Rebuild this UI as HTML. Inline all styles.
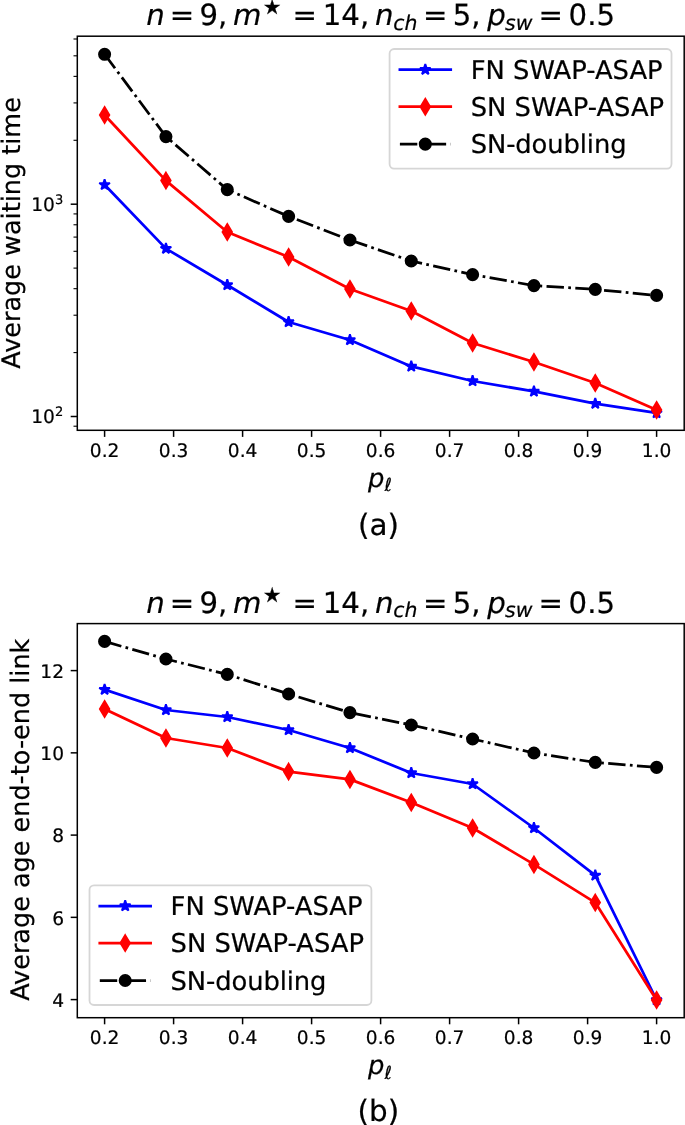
<!DOCTYPE html>
<html lang="en"><head><meta charset="utf-8"><title>Average waiting time and age of end-to-end link</title>
<style>html,body{margin:0;padding:0;background:#fff}svg{display:block;will-change:transform}text{font-family:'DejaVu Sans', 'Liberation Sans', sans-serif;text-rendering:geometricPrecision;fill:#000;stroke:#000;stroke-width:.22px}</style>
</head><body>
<svg width="685" height="1125" viewBox="0 0 685 1125">
<rect width="685" height="1125" fill="#fff"/>
<clipPath id="clipa"><rect x="77.3" y="36.2" width="606.9" height="394.1"/></clipPath>
<g clip-path="url(#clipa)">
<polyline points="104.6,184.8 165.93,248.6 227.27,285 288.6,322 349.93,340 411.26,366.4 472.6,381 533.93,391.4 595.26,403.6 656.6,413" fill="none" stroke="#00f" stroke-width="2.75" stroke-linejoin="round" stroke-linecap="square"/>
<polygon points="104.6,179.2 105.86,183.07 109.93,183.07 106.63,185.46 107.89,189.33 104.6,186.94 101.31,189.33 102.57,185.46 99.27,183.07 103.34,183.07" fill="#00f" stroke="#00f" stroke-width="1.87" stroke-linejoin="bevel"/>
<polygon points="165.93,243 167.19,246.87 171.26,246.87 167.97,249.26 169.22,253.13 165.93,250.74 162.64,253.13 163.9,249.26 160.61,246.87 164.68,246.87" fill="#00f" stroke="#00f" stroke-width="1.87" stroke-linejoin="bevel"/>
<polygon points="227.27,279.4 228.52,283.27 232.59,283.27 229.3,285.66 230.56,289.53 227.27,287.14 223.97,289.53 225.23,285.66 221.94,283.27 226.01,283.27" fill="#00f" stroke="#00f" stroke-width="1.87" stroke-linejoin="bevel"/>
<polygon points="288.6,316.4 289.86,320.27 293.92,320.27 290.63,322.66 291.89,326.53 288.6,324.14 285.31,326.53 286.56,322.66 283.27,320.27 287.34,320.27" fill="#00f" stroke="#00f" stroke-width="1.87" stroke-linejoin="bevel"/>
<polygon points="349.93,334.4 351.19,338.27 355.26,338.27 351.97,340.66 353.22,344.53 349.93,342.14 346.64,344.53 347.9,340.66 344.61,338.27 348.67,338.27" fill="#00f" stroke="#00f" stroke-width="1.87" stroke-linejoin="bevel"/>
<polygon points="411.26,360.8 412.52,364.67 416.59,364.67 413.3,367.06 414.56,370.93 411.26,368.54 407.97,370.93 409.23,367.06 405.94,364.67 410.01,364.67" fill="#00f" stroke="#00f" stroke-width="1.87" stroke-linejoin="bevel"/>
<polygon points="472.6,375.4 473.86,379.27 477.92,379.27 474.63,381.66 475.89,385.53 472.6,383.14 469.31,385.53 470.56,381.66 467.27,379.27 471.34,379.27" fill="#00f" stroke="#00f" stroke-width="1.87" stroke-linejoin="bevel"/>
<polygon points="533.93,385.8 535.19,389.67 539.26,389.67 535.97,392.06 537.22,395.93 533.93,393.54 530.64,395.93 531.9,392.06 528.61,389.67 532.67,389.67" fill="#00f" stroke="#00f" stroke-width="1.87" stroke-linejoin="bevel"/>
<polygon points="595.26,398 596.52,401.87 600.59,401.87 597.3,404.26 598.56,408.13 595.26,405.74 591.97,408.13 593.23,404.26 589.94,401.87 594.01,401.87" fill="#00f" stroke="#00f" stroke-width="1.87" stroke-linejoin="bevel"/>
<polygon points="656.6,407.4 657.85,411.27 661.92,411.27 658.63,413.66 659.89,417.53 656.6,415.14 653.31,417.53 654.56,413.66 651.27,411.27 655.34,411.27" fill="#00f" stroke="#00f" stroke-width="1.87" stroke-linejoin="bevel"/>
</g>
<g clip-path="url(#clipa)">
<polyline points="104.6,115 165.93,180.6 227.27,232 288.6,257 349.93,289 411.26,311 472.6,343 533.93,362 595.26,383 656.6,410" fill="none" stroke="#f00" stroke-width="2.75" stroke-linejoin="round" stroke-linecap="square"/>
<polygon points="104.6,107.08 109.35,115 104.6,122.92 99.85,115" fill="#f00" stroke="#f00" stroke-width="1.87" stroke-linejoin="miter" stroke-miterlimit="10"/>
<polygon points="165.93,172.68 170.68,180.6 165.93,188.52 161.18,180.6" fill="#f00" stroke="#f00" stroke-width="1.87" stroke-linejoin="miter" stroke-miterlimit="10"/>
<polygon points="227.27,224.08 232.02,232 227.27,239.92 222.51,232" fill="#f00" stroke="#f00" stroke-width="1.87" stroke-linejoin="miter" stroke-miterlimit="10"/>
<polygon points="288.6,249.08 293.35,257 288.6,264.92 283.85,257" fill="#f00" stroke="#f00" stroke-width="1.87" stroke-linejoin="miter" stroke-miterlimit="10"/>
<polygon points="349.93,281.08 354.68,289 349.93,296.92 345.18,289" fill="#f00" stroke="#f00" stroke-width="1.87" stroke-linejoin="miter" stroke-miterlimit="10"/>
<polygon points="411.26,303.08 416.02,311 411.26,318.92 406.51,311" fill="#f00" stroke="#f00" stroke-width="1.87" stroke-linejoin="miter" stroke-miterlimit="10"/>
<polygon points="472.6,335.08 477.35,343 472.6,350.92 467.85,343" fill="#f00" stroke="#f00" stroke-width="1.87" stroke-linejoin="miter" stroke-miterlimit="10"/>
<polygon points="533.93,354.08 538.68,362 533.93,369.92 529.18,362" fill="#f00" stroke="#f00" stroke-width="1.87" stroke-linejoin="miter" stroke-miterlimit="10"/>
<polygon points="595.26,375.08 600.02,383 595.26,390.92 590.51,383" fill="#f00" stroke="#f00" stroke-width="1.87" stroke-linejoin="miter" stroke-miterlimit="10"/>
<polygon points="656.6,402.08 661.35,410 656.6,417.92 651.85,410" fill="#f00" stroke="#f00" stroke-width="1.87" stroke-linejoin="miter" stroke-miterlimit="10"/>
</g>
<g clip-path="url(#clipa)">
<polyline points="104.6,54.3 165.93,136.6 227.27,189.6 288.6,216.4 349.93,240 411.26,261 472.6,274.6 533.93,285.6 595.26,289.4 656.6,295.4" fill="none" stroke="#000" stroke-width="2.75" stroke-linejoin="round" stroke-dasharray="17.41 4.35 2.72 4.35" stroke-linecap="butt"/>
<circle cx="104.6" cy="54.3" r="5.6" fill="#000" stroke="#000" stroke-width="1.87"/>
<circle cx="165.93" cy="136.6" r="5.6" fill="#000" stroke="#000" stroke-width="1.87"/>
<circle cx="227.27" cy="189.6" r="5.6" fill="#000" stroke="#000" stroke-width="1.87"/>
<circle cx="288.6" cy="216.4" r="5.6" fill="#000" stroke="#000" stroke-width="1.87"/>
<circle cx="349.93" cy="240" r="5.6" fill="#000" stroke="#000" stroke-width="1.87"/>
<circle cx="411.26" cy="261" r="5.6" fill="#000" stroke="#000" stroke-width="1.87"/>
<circle cx="472.6" cy="274.6" r="5.6" fill="#000" stroke="#000" stroke-width="1.87"/>
<circle cx="533.93" cy="285.6" r="5.6" fill="#000" stroke="#000" stroke-width="1.87"/>
<circle cx="595.26" cy="289.4" r="5.6" fill="#000" stroke="#000" stroke-width="1.87"/>
<circle cx="656.6" cy="295.4" r="5.6" fill="#000" stroke="#000" stroke-width="1.87"/>
</g>
<g stroke="#000" stroke-width="1.5">
<line x1="104.6" y1="430.3" x2="104.6" y2="436.9"/>
<line x1="173.6" y1="430.3" x2="173.6" y2="436.9"/>
<line x1="242.6" y1="430.3" x2="242.6" y2="436.9"/>
<line x1="311.6" y1="430.3" x2="311.6" y2="436.9"/>
<line x1="380.6" y1="430.3" x2="380.6" y2="436.9"/>
<line x1="449.6" y1="430.3" x2="449.6" y2="436.9"/>
<line x1="518.6" y1="430.3" x2="518.6" y2="436.9"/>
<line x1="587.6" y1="430.3" x2="587.6" y2="436.9"/>
<line x1="656.6" y1="430.3" x2="656.6" y2="436.9"/>
</g>
<g font-size="18.6" text-anchor="middle">
<text transform="translate(104.6 457)">0.2</text>
<text transform="translate(173.6 457)">0.3</text>
<text transform="translate(242.6 457)">0.4</text>
<text transform="translate(311.6 457)">0.5</text>
<text transform="translate(380.6 457)">0.6</text>
<text transform="translate(449.6 457)">0.7</text>
<text transform="translate(518.6 457)">0.8</text>
<text transform="translate(587.6 457)">0.9</text>
<text transform="translate(656.6 457)">1.0</text>
</g>
<g stroke="#000" stroke-width="1.5">
<line x1="70.7" y1="416.5" x2="77.3" y2="416.5"/>
<line x1="70.7" y1="204.2" x2="77.3" y2="204.2"/>
</g>
<g stroke="#000" stroke-width="1.1">
<line x1="73.5" y1="426.21" x2="77.3" y2="426.21"/>
<line x1="73.5" y1="352.59" x2="77.3" y2="352.59"/>
<line x1="73.5" y1="315.21" x2="77.3" y2="315.21"/>
<line x1="73.5" y1="288.68" x2="77.3" y2="288.68"/>
<line x1="73.5" y1="268.11" x2="77.3" y2="268.11"/>
<line x1="73.5" y1="251.3" x2="77.3" y2="251.3"/>
<line x1="73.5" y1="237.09" x2="77.3" y2="237.09"/>
<line x1="73.5" y1="224.77" x2="77.3" y2="224.77"/>
<line x1="73.5" y1="213.91" x2="77.3" y2="213.91"/>
<line x1="73.5" y1="140.29" x2="77.3" y2="140.29"/>
<line x1="73.5" y1="102.91" x2="77.3" y2="102.91"/>
<line x1="73.5" y1="76.38" x2="77.3" y2="76.38"/>
<line x1="73.5" y1="55.81" x2="77.3" y2="55.81"/>
<line x1="73.5" y1="39" x2="77.3" y2="39"/>
</g>
<text transform="translate(31.25 423.1)" font-size="18.6">10<tspan dy="-6.8" font-size="13.02">2</tspan></text>
<text transform="translate(31.25 210.8)" font-size="18.6">10<tspan dy="-6.8" font-size="13.02">3</tspan></text>
<rect x="77.3" y="36.2" width="606.9" height="394.1" fill="none" stroke="#000" stroke-width="1.5"/>
<text transform="translate(19.5 232.95) rotate(-90)" font-size="25.5" text-anchor="middle">Average waiting time</text>
<text transform="translate(368.1 486.7)" font-size="25.8" font-style="italic">p<tspan dy="4.5" font-size="18.06">ℓ</tspan></text>
<text transform="translate(378.4 535.3)" font-size="29.4" text-anchor="middle">(a)</text>
<g font-size="29.2">
<text transform="translate(146.3 25.3)" font-style="italic">n</text>
<text transform="translate(169.8 25.3)">=</text>
<text transform="translate(199.4 25.3)">9,</text>
<text transform="translate(233.1 25.3)" font-style="italic">m</text>
<text transform="translate(262.9 14.2)" font-size="20.44">★</text>
<text transform="translate(292.5 25.3)">=</text>
<text transform="translate(322.8 25.3)">14,</text>
<text transform="translate(374.95 25.3)" font-style="italic">n</text>
<text transform="translate(393.25 30)" font-size="20.44" font-style="italic">ch</text>
<text transform="translate(423 25.3)">=</text>
<text transform="translate(452.8 25.3)">5,</text>
<text transform="translate(487.2 25.3)" font-style="italic">p</text>
<text transform="translate(505.1 30)" font-size="20.44" font-style="italic">sw</text>
<text transform="translate(538.6 25.3)">=</text>
<text transform="translate(568.6 25.3)">0.5</text>
</g>
<rect x="389.6" y="49" width="281.9" height="119.6" rx="4.5" ry="4.5" fill="#fff" fill-opacity="0.8" stroke="#ccc" stroke-opacity="0.8" stroke-width="1.8"/>
<line x1="399.9" y1="69.6" x2="450.7" y2="69.6" stroke="#00f" stroke-width="2.75" stroke-linecap="square"/>
<polygon points="425.3,64 426.56,67.87 430.63,67.87 427.33,70.26 428.59,74.13 425.3,71.74 422.01,74.13 423.27,70.26 419.97,67.87 424.04,67.87" fill="#00f" stroke="#00f" stroke-width="1.87" stroke-linejoin="bevel"/>
<text transform="translate(470.7 78.6)" font-size="25.8">FN SWAP-ASAP</text>
<line x1="399.9" y1="106.7" x2="450.7" y2="106.7" stroke="#f00" stroke-width="2.75" stroke-linecap="square"/>
<polygon points="425.3,98.78 430.05,106.7 425.3,114.62 420.55,106.7" fill="#f00" stroke="#f00" stroke-width="1.87" stroke-linejoin="miter" stroke-miterlimit="10"/>
<text transform="translate(470.7 115.7)" font-size="25.8">SN SWAP-ASAP</text>
<line x1="399.9" y1="144.1" x2="450.7" y2="144.1" stroke="#000" stroke-width="2.75" stroke-dasharray="17.41 4.35 2.72 4.35"/>
<circle cx="425.3" cy="144.1" r="5.6" fill="#000" stroke="#000" stroke-width="1.87"/>
<text transform="translate(470.7 153.1)" font-size="25.8" letter-spacing="-0.11">SN-doubling</text>
<clipPath id="clipb"><rect x="77.3" y="623.6" width="606.9" height="394.1"/></clipPath>
<g clip-path="url(#clipb)">
<polyline points="104.6,689.6 165.93,710 227.27,717 288.6,730 349.93,748 411.26,773 472.6,784 533.93,828 595.26,875.4 656.6,1000" fill="none" stroke="#00f" stroke-width="2.75" stroke-linejoin="round" stroke-linecap="square"/>
<polygon points="104.6,684 105.86,687.87 109.93,687.87 106.63,690.26 107.89,694.13 104.6,691.74 101.31,694.13 102.57,690.26 99.27,687.87 103.34,687.87" fill="#00f" stroke="#00f" stroke-width="1.87" stroke-linejoin="bevel"/>
<polygon points="165.93,704.4 167.19,708.27 171.26,708.27 167.97,710.66 169.22,714.53 165.93,712.14 162.64,714.53 163.9,710.66 160.61,708.27 164.68,708.27" fill="#00f" stroke="#00f" stroke-width="1.87" stroke-linejoin="bevel"/>
<polygon points="227.27,711.4 228.52,715.27 232.59,715.27 229.3,717.66 230.56,721.53 227.27,719.14 223.97,721.53 225.23,717.66 221.94,715.27 226.01,715.27" fill="#00f" stroke="#00f" stroke-width="1.87" stroke-linejoin="bevel"/>
<polygon points="288.6,724.4 289.86,728.27 293.92,728.27 290.63,730.66 291.89,734.53 288.6,732.14 285.31,734.53 286.56,730.66 283.27,728.27 287.34,728.27" fill="#00f" stroke="#00f" stroke-width="1.87" stroke-linejoin="bevel"/>
<polygon points="349.93,742.4 351.19,746.27 355.26,746.27 351.97,748.66 353.22,752.53 349.93,750.14 346.64,752.53 347.9,748.66 344.61,746.27 348.67,746.27" fill="#00f" stroke="#00f" stroke-width="1.87" stroke-linejoin="bevel"/>
<polygon points="411.26,767.4 412.52,771.27 416.59,771.27 413.3,773.66 414.56,777.53 411.26,775.14 407.97,777.53 409.23,773.66 405.94,771.27 410.01,771.27" fill="#00f" stroke="#00f" stroke-width="1.87" stroke-linejoin="bevel"/>
<polygon points="472.6,778.4 473.86,782.27 477.92,782.27 474.63,784.66 475.89,788.53 472.6,786.14 469.31,788.53 470.56,784.66 467.27,782.27 471.34,782.27" fill="#00f" stroke="#00f" stroke-width="1.87" stroke-linejoin="bevel"/>
<polygon points="533.93,822.4 535.19,826.27 539.26,826.27 535.97,828.66 537.22,832.53 533.93,830.14 530.64,832.53 531.9,828.66 528.61,826.27 532.67,826.27" fill="#00f" stroke="#00f" stroke-width="1.87" stroke-linejoin="bevel"/>
<polygon points="595.26,869.8 596.52,873.67 600.59,873.67 597.3,876.06 598.56,879.93 595.26,877.54 591.97,879.93 593.23,876.06 589.94,873.67 594.01,873.67" fill="#00f" stroke="#00f" stroke-width="1.87" stroke-linejoin="bevel"/>
<polygon points="656.6,994.4 657.85,998.27 661.92,998.27 658.63,1000.66 659.89,1004.53 656.6,1002.14 653.31,1004.53 654.56,1000.66 651.27,998.27 655.34,998.27" fill="#00f" stroke="#00f" stroke-width="1.87" stroke-linejoin="bevel"/>
</g>
<g clip-path="url(#clipb)">
<polyline points="104.6,709 165.93,738 227.27,748 288.6,771.6 349.93,779.4 411.26,802.5 472.6,828 533.93,864.4 595.26,902.6 656.6,1000" fill="none" stroke="#f00" stroke-width="2.75" stroke-linejoin="round" stroke-linecap="square"/>
<polygon points="104.6,701.08 109.35,709 104.6,716.92 99.85,709" fill="#f00" stroke="#f00" stroke-width="1.87" stroke-linejoin="miter" stroke-miterlimit="10"/>
<polygon points="165.93,730.08 170.68,738 165.93,745.92 161.18,738" fill="#f00" stroke="#f00" stroke-width="1.87" stroke-linejoin="miter" stroke-miterlimit="10"/>
<polygon points="227.27,740.08 232.02,748 227.27,755.92 222.51,748" fill="#f00" stroke="#f00" stroke-width="1.87" stroke-linejoin="miter" stroke-miterlimit="10"/>
<polygon points="288.6,763.68 293.35,771.6 288.6,779.52 283.85,771.6" fill="#f00" stroke="#f00" stroke-width="1.87" stroke-linejoin="miter" stroke-miterlimit="10"/>
<polygon points="349.93,771.48 354.68,779.4 349.93,787.32 345.18,779.4" fill="#f00" stroke="#f00" stroke-width="1.87" stroke-linejoin="miter" stroke-miterlimit="10"/>
<polygon points="411.26,794.58 416.02,802.5 411.26,810.42 406.51,802.5" fill="#f00" stroke="#f00" stroke-width="1.87" stroke-linejoin="miter" stroke-miterlimit="10"/>
<polygon points="472.6,820.08 477.35,828 472.6,835.92 467.85,828" fill="#f00" stroke="#f00" stroke-width="1.87" stroke-linejoin="miter" stroke-miterlimit="10"/>
<polygon points="533.93,856.48 538.68,864.4 533.93,872.32 529.18,864.4" fill="#f00" stroke="#f00" stroke-width="1.87" stroke-linejoin="miter" stroke-miterlimit="10"/>
<polygon points="595.26,894.68 600.02,902.6 595.26,910.52 590.51,902.6" fill="#f00" stroke="#f00" stroke-width="1.87" stroke-linejoin="miter" stroke-miterlimit="10"/>
<polygon points="656.6,992.08 661.35,1000 656.6,1007.92 651.85,1000" fill="#f00" stroke="#f00" stroke-width="1.87" stroke-linejoin="miter" stroke-miterlimit="10"/>
</g>
<g clip-path="url(#clipb)">
<polyline points="104.6,641.4 165.93,659 227.27,674.4 288.6,694 349.93,712.6 411.26,725 472.6,739 533.93,753 595.26,762.4 656.6,767.4" fill="none" stroke="#000" stroke-width="2.75" stroke-linejoin="round" stroke-dasharray="17.41 4.35 2.72 4.35" stroke-linecap="butt"/>
<circle cx="104.6" cy="641.4" r="5.6" fill="#000" stroke="#000" stroke-width="1.87"/>
<circle cx="165.93" cy="659" r="5.6" fill="#000" stroke="#000" stroke-width="1.87"/>
<circle cx="227.27" cy="674.4" r="5.6" fill="#000" stroke="#000" stroke-width="1.87"/>
<circle cx="288.6" cy="694" r="5.6" fill="#000" stroke="#000" stroke-width="1.87"/>
<circle cx="349.93" cy="712.6" r="5.6" fill="#000" stroke="#000" stroke-width="1.87"/>
<circle cx="411.26" cy="725" r="5.6" fill="#000" stroke="#000" stroke-width="1.87"/>
<circle cx="472.6" cy="739" r="5.6" fill="#000" stroke="#000" stroke-width="1.87"/>
<circle cx="533.93" cy="753" r="5.6" fill="#000" stroke="#000" stroke-width="1.87"/>
<circle cx="595.26" cy="762.4" r="5.6" fill="#000" stroke="#000" stroke-width="1.87"/>
<circle cx="656.6" cy="767.4" r="5.6" fill="#000" stroke="#000" stroke-width="1.87"/>
</g>
<g stroke="#000" stroke-width="1.5">
<line x1="104.6" y1="1017.7" x2="104.6" y2="1024.3"/>
<line x1="173.6" y1="1017.7" x2="173.6" y2="1024.3"/>
<line x1="242.6" y1="1017.7" x2="242.6" y2="1024.3"/>
<line x1="311.6" y1="1017.7" x2="311.6" y2="1024.3"/>
<line x1="380.6" y1="1017.7" x2="380.6" y2="1024.3"/>
<line x1="449.6" y1="1017.7" x2="449.6" y2="1024.3"/>
<line x1="518.6" y1="1017.7" x2="518.6" y2="1024.3"/>
<line x1="587.6" y1="1017.7" x2="587.6" y2="1024.3"/>
<line x1="656.6" y1="1017.7" x2="656.6" y2="1024.3"/>
</g>
<g font-size="18.6" text-anchor="middle">
<text transform="translate(104.6 1044.4)">0.2</text>
<text transform="translate(173.6 1044.4)">0.3</text>
<text transform="translate(242.6 1044.4)">0.4</text>
<text transform="translate(311.6 1044.4)">0.5</text>
<text transform="translate(380.6 1044.4)">0.6</text>
<text transform="translate(449.6 1044.4)">0.7</text>
<text transform="translate(518.6 1044.4)">0.8</text>
<text transform="translate(587.6 1044.4)">0.9</text>
<text transform="translate(656.6 1044.4)">1.0</text>
</g>
<g stroke="#000" stroke-width="1.5">
<line x1="70.7" y1="999.6" x2="77.3" y2="999.6"/>
<line x1="70.7" y1="917.35" x2="77.3" y2="917.35"/>
<line x1="70.7" y1="835.1" x2="77.3" y2="835.1"/>
<line x1="70.7" y1="752.85" x2="77.3" y2="752.85"/>
<line x1="70.7" y1="670.6" x2="77.3" y2="670.6"/>
</g>
<g font-size="18.6" text-anchor="end">
<text transform="translate(64 1006.9)">4</text>
<text transform="translate(64 924.65)">6</text>
<text transform="translate(64 842.4)">8</text>
<text transform="translate(64 760.15)">10</text>
<text transform="translate(64 677.9)">12</text>
</g>
<rect x="77.3" y="623.6" width="606.9" height="394.1" fill="none" stroke="#000" stroke-width="1.5"/>
<text transform="translate(28.8 819.75) rotate(-90)" font-size="25.5" text-anchor="middle">Average age end-to-end link</text>
<text transform="translate(368.1 1074.1)" font-size="25.8" font-style="italic">p<tspan dy="4.5" font-size="18.06">ℓ</tspan></text>
<text transform="translate(378.4 1121.4)" font-size="29.4" text-anchor="middle">(b)</text>
<g font-size="29.2">
<text transform="translate(146.3 612.7)" font-style="italic">n</text>
<text transform="translate(169.8 612.7)">=</text>
<text transform="translate(199.4 612.7)">9,</text>
<text transform="translate(233.1 612.7)" font-style="italic">m</text>
<text transform="translate(262.9 601.6)" font-size="20.44">★</text>
<text transform="translate(292.5 612.7)">=</text>
<text transform="translate(322.8 612.7)">14,</text>
<text transform="translate(374.95 612.7)" font-style="italic">n</text>
<text transform="translate(393.25 617.4)" font-size="20.44" font-style="italic">ch</text>
<text transform="translate(423 612.7)">=</text>
<text transform="translate(452.8 612.7)">5,</text>
<text transform="translate(487.2 612.7)" font-style="italic">p</text>
<text transform="translate(505.1 617.4)" font-size="20.44" font-style="italic">sw</text>
<text transform="translate(538.6 612.7)">=</text>
<text transform="translate(568.6 612.7)">0.5</text>
</g>
<rect x="89.5" y="885.4" width="281.9" height="119.6" rx="4.5" ry="4.5" fill="#fff" fill-opacity="0.8" stroke="#ccc" stroke-opacity="0.8" stroke-width="1.8"/>
<line x1="99.8" y1="906" x2="150.6" y2="906" stroke="#00f" stroke-width="2.75" stroke-linecap="square"/>
<polygon points="125.2,900.4 126.46,904.27 130.53,904.27 127.23,906.66 128.49,910.53 125.2,908.14 121.91,910.53 123.17,906.66 119.87,904.27 123.94,904.27" fill="#00f" stroke="#00f" stroke-width="1.87" stroke-linejoin="bevel"/>
<text transform="translate(170.6 915)" font-size="25.8">FN SWAP-ASAP</text>
<line x1="99.8" y1="943.1" x2="150.6" y2="943.1" stroke="#f00" stroke-width="2.75" stroke-linecap="square"/>
<polygon points="125.2,935.18 129.95,943.1 125.2,951.02 120.45,943.1" fill="#f00" stroke="#f00" stroke-width="1.87" stroke-linejoin="miter" stroke-miterlimit="10"/>
<text transform="translate(170.6 952.1)" font-size="25.8">SN SWAP-ASAP</text>
<line x1="99.8" y1="980.5" x2="150.6" y2="980.5" stroke="#000" stroke-width="2.75" stroke-dasharray="17.41 4.35 2.72 4.35"/>
<circle cx="125.2" cy="980.5" r="5.6" fill="#000" stroke="#000" stroke-width="1.87"/>
<text transform="translate(170.6 989.5)" font-size="25.8" letter-spacing="-0.11">SN-doubling</text>
</svg></body></html>
